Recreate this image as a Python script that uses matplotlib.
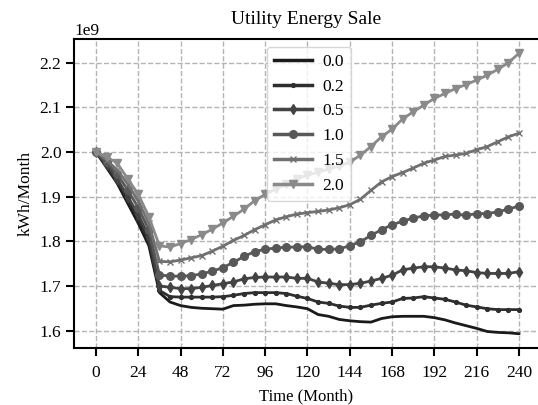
import numpy as np
import matplotlib
matplotlib.use('Agg')
import matplotlib.pyplot as plt

plt.rcParams['font.family'] = ['Liberation Serif', 'DejaVu Serif']

months = np.arange(0, 241, 6)
labels = ['0.0', '0.2', '0.5', '1.0', '1.5', '2.0']

s00 = [2.0, 1.965, 1.93, 1.885, 1.84, 1.79, 1.685, 1.664, 1.656, 1.652, 1.65, 1.649, 1.648,
       1.656, 1.657, 1.659, 1.66, 1.66, 1.656, 1.653, 1.649, 1.636, 1.632, 1.625, 1.622,
       1.620, 1.619, 1.627, 1.631, 1.632, 1.632, 1.632, 1.629, 1.624, 1.617, 1.611, 1.605,
       1.598, 1.596, 1.595, 1.593]
s02 = [2.0, 1.968, 1.935, 1.893, 1.85, 1.80, 1.69, 1.676, 1.675, 1.675, 1.675, 1.675, 1.676,
       1.679, 1.683, 1.685, 1.685, 1.685, 1.683, 1.677, 1.672, 1.664, 1.661, 1.655, 1.652,
       1.652, 1.657, 1.661, 1.664, 1.672, 1.673, 1.676, 1.673, 1.670, 1.664, 1.657, 1.653,
       1.649, 1.647, 1.647, 1.647]
s05 = [2.0, 1.972, 1.94, 1.90, 1.86, 1.81, 1.70, 1.697, 1.694, 1.694, 1.697, 1.701, 1.705,
       1.709, 1.716, 1.719, 1.72, 1.72, 1.72, 1.717, 1.717, 1.709, 1.706, 1.703, 1.703,
       1.706, 1.711, 1.717, 1.724, 1.736, 1.74, 1.743, 1.743, 1.74, 1.736, 1.734, 1.73,
       1.728, 1.728, 1.728, 1.732]
s10 = [2.0, 1.977, 1.95, 1.915, 1.875, 1.825, 1.725, 1.722, 1.722, 1.723, 1.727, 1.733, 1.741,
       1.753, 1.766, 1.777, 1.782, 1.785, 1.787, 1.787, 1.788, 1.782, 1.782, 1.783, 1.79,
       1.799, 1.813, 1.826, 1.837, 1.845, 1.852, 1.857, 1.859, 1.859, 1.861, 1.858, 1.862,
       1.862, 1.866, 1.872, 1.879]
s15 = [2.0, 1.982, 1.96, 1.928, 1.89, 1.84, 1.755, 1.754, 1.758, 1.763, 1.768, 1.778, 1.789,
       1.802, 1.813, 1.826, 1.837, 1.848, 1.855, 1.861, 1.864, 1.867, 1.87, 1.875, 1.882,
       1.894, 1.914, 1.933, 1.945, 1.954, 1.964, 1.975, 1.982, 1.99, 1.993, 1.997, 2.005,
       2.012, 2.023, 2.034, 2.042]
s20 = [2.0, 1.989, 1.975, 1.94, 1.905, 1.855, 1.79, 1.787, 1.795, 1.804, 1.815, 1.827, 1.841,
       1.856, 1.872, 1.891, 1.905, 1.917, 1.928, 1.94, 1.948, 1.955, 1.962, 1.968, 1.977,
       1.993, 2.012, 2.034, 2.051, 2.074, 2.09, 2.105, 2.12, 2.131, 2.142, 2.151, 2.161,
       2.172, 2.185, 2.2, 2.221]

series = [s00, s02, s05, s10, s15, s20]
colors = ['#1a1a1a', '#2e2e2e', '#434343', '#585858', '#707070', '#8a8a8a']
markers = [None, '.', 'd', 'o', 'x', 'v']
msizes = [0, 5.5, 5.5, 5.5, 4.5, 6]

fig, ax = plt.subplots(figsize=(5.38, 4.05), dpi=100)
fig.subplots_adjust(left=0.1375, right=1.0, top=0.9037, bottom=0.1407)

for lab, vals, c, m, ms in zip(labels, series, colors, markers, msizes):
    ax.plot(months, np.array(vals) * 1e9, color=c, marker=m, markersize=ms,
            linewidth=2.0, label=lab)

ax.set_xlim(-12.5, 250.8)
ax.set_ylim(1.561e9, 2.253e9)
ax.set_xticks(np.arange(0, 241, 24))
ax.set_yticks([1.6e9, 1.7e9, 1.8e9, 1.9e9, 2.0e9, 2.1e9, 2.2e9])
ax.grid(True, linestyle='--', color='#b4b4b4', linewidth=1)
ax.set_axisbelow(True)

for sp in ['top', 'left', 'bottom']:
    ax.spines[sp].set_linewidth(1.5)
ax.spines['right'].set_visible(False)
ax.tick_params(direction='out', length=5.5, width=1.5, labelsize=12.5)
ax.tick_params(axis='x', pad=7)
ax.yaxis.get_offset_text().set_fontsize(12.5)

ax.set_title('Utility Energy Sale', fontsize=14, pad=11)
ax.set_xlabel('Time (Month)', fontsize=12, labelpad=5)
ax.set_ylabel('kWh/Month', fontsize=12.5)

leg = ax.legend(loc='upper left', bbox_to_anchor=(0.416, 0.975), borderaxespad=0,
                fontsize=12.5, handlelength=2.2, handletextpad=0.6, labelspacing=0.5)
for h in leg.get_lines():
    h.set_linewidth(2.5)

fig.savefig('out.png', dpi=100)
